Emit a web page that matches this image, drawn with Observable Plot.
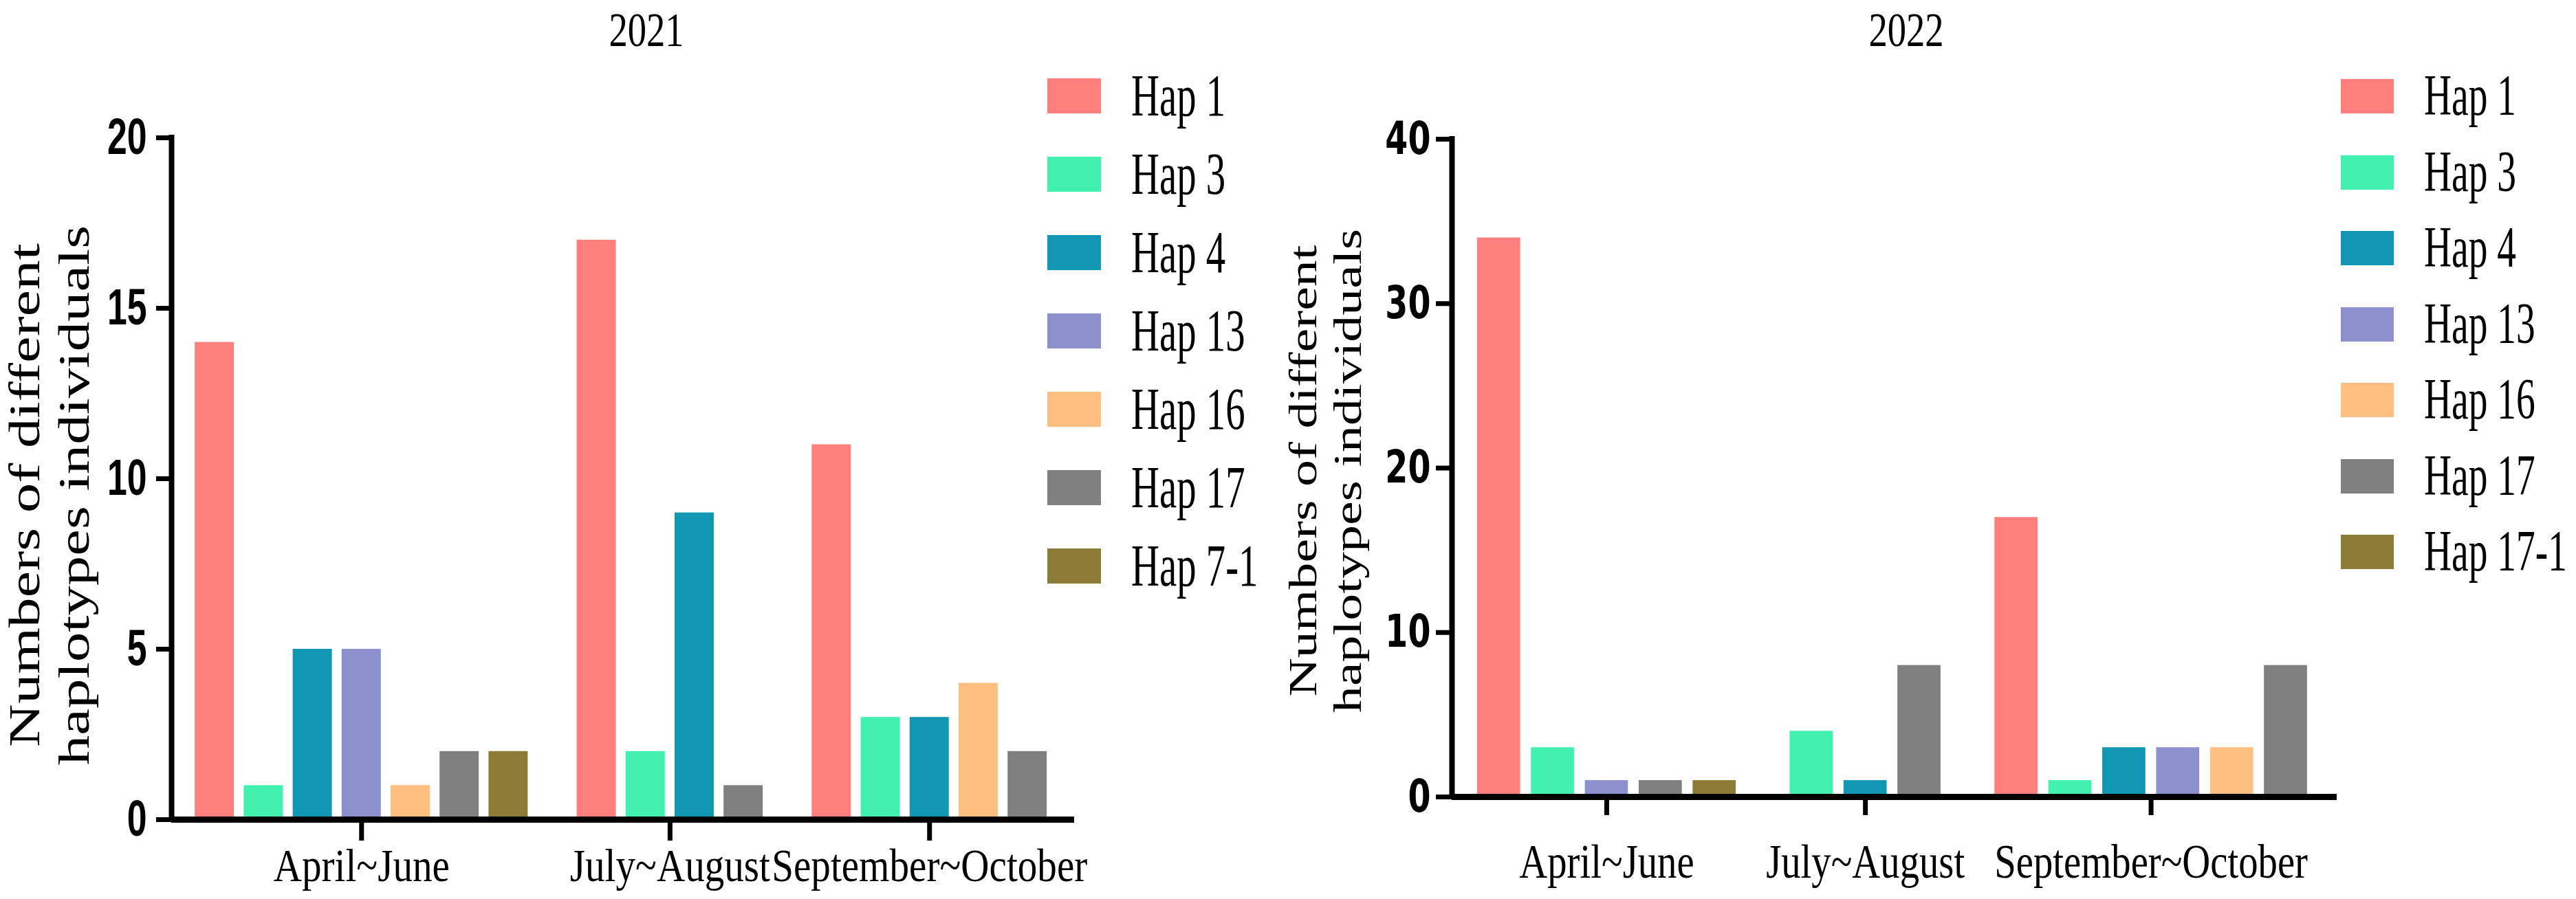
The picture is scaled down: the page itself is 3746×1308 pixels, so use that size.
<!DOCTYPE html>
<html>
<head>
<meta charset="utf-8">
<script src="https://cdn.jsdelivr.net/npm/d3@7"></script>
<script src="https://cdn.jsdelivr.net/npm/@observablehq/plot@0.6"></script>
<style>
  html, body { margin: 0; padding: 0; background: #fff; }
  #root { position: relative; width: 3746px; height: 1308px; overflow: hidden; background: #fff; }
  .abs { position: absolute; }
  .serif { font-family: "Liberation Serif", "Times New Roman", serif; color: #000; line-height: 1; white-space: nowrap; }
  .ttl { line-height: 1.2; }
</style>
</head>
<body>
<div id="root"></div>
<script>
// ---------------- data ----------------
const periods = ["April~June", "July~August", "September~October"];

const haps2021 = ["Hap 1", "Hap 3", "Hap 4", "Hap 13", "Hap 16", "Hap 17", "Hap 7-1"];
// rows = periods, columns = haps2021 ; null = haplotype not found in that period
const counts2021 = [
  [14, 1, 5, 5, 1, 2, 2],
  [17, 2, 9, null, null, 1, null],
  [11, 3, 3, null, 4, 2, null]
];

const haps2022 = ["Hap 1", "Hap 3", "Hap 4", "Hap 13", "Hap 16", "Hap 17", "Hap 17-1"];
const counts2022 = [
  [34, 3, null, 1, null, 1, 1],
  [null, 4, 1, null, null, 8, null],
  [17, 1, 3, 3, 3, 8, null]
];

const yTicks2021 = [0, 5, 10, 15, 20];
const yTicks2022 = [0, 10, 20, 30, 40];
const yLabel = "Numbers of different\nhaplotypes individuals";

// ---------------- styles ----------------
const hapColors = ["#FF7F7F", "#42F0AF", "#1197B4", "#8C90CC", "#FFBF80", "#808080", "#8C7B36"];
const BAR = 0.8;        // bar width in slot units
const GROUP_GAP = 1.0;  // empty space between groups in slot units

function layout(haps, counts) {
  const bars = [], centers = [];
  let pos = 0, last = 0;
  counts.forEach((row, p) => {
    const start = pos;
    row.forEach((v, h) => {
      if (v == null) return;
      bars.push({period: periods[p], hap: haps[h], value: v, x1: pos, x2: pos + BAR});
      last = pos;
      pos += 1;
    });
    centers.push((start + last + BAR) / 2);
    pos = last + BAR + GROUP_GAP;
  });
  return {bars, centers, end: last + BAR};
}

function squish(nodes, sx) {
  nodes.forEach(el => {
    let t = el.getAttribute("transform") || "";
    if (!t && (el.hasAttribute("x") || el.hasAttribute("y"))) {
      t = `translate(${el.getAttribute("x") || 0},${el.getAttribute("y") || 0})`;
      el.removeAttribute("x"); el.removeAttribute("y");
    }
    if (t.includes("rotate(")) t = t.replace("rotate(", `scale(${sx},1) rotate(`);
    else t = t + ` scale(${sx},1)`;
    el.setAttribute("transform", t);
  });
}

const root = document.getElementById("root");

const panels = [
  {
    title: "2021", titleX: 940, haps: haps2021, counts: counts2021, yTicks: yTicks2021,
    left: 0, width: 1600, height: 1308, mL: 249, mR: 38, mT: 200, mB: 116, padL: 0.48, padR: 0.56,
    yFont: "Liberation Sans, Arial, sans-serif", yFontSize: 74, yTickSize: 22, yTickPad: 14, ySquish: 0.7,
    xFontSize: 68, xTickSize: 31, xTickPad: 10, xSquish: 0.84,
    titleFontSize: 87, titleLH: 1.15, titleDx: -180, titleDy: 24,
    legendLeft: 1523, legendTextLeft: 1645, legendTop: 114, legendStep: 114, swW: 78, swH: 51, legFont: 86
  },
  {
    title: "2022", titleX: 2772, haps: haps2022, counts: counts2022, yTicks: yTicks2022,
    left: 1873, width: 1565, height: 1308, mL: 238, mR: 40, mT: 202, mB: 149, padL: 0.47, padR: 0.55,
    yFont: "DejaVu Sans, sans-serif", yFontSize: 66, yTickSize: 23, yTickPad: 8, ySquish: 0.72,
    xFontSize: 70, xTickSize: 27, xTickPad: 41, xSquish: 0.81,
    titleFontSize: 78, titleLH: 1.17, titleDx: -186, titleDy: 4,
    legendLeft: 3404, legendTextLeft: 3525, legendTop: 115, legendStep: 110.5, swW: 77, swH: 50, legFont: 84
  }
];

panels.forEach(cfg => {
  const {bars, centers, end} = layout(cfg.haps, cfg.counts);
  const labelOf = new Map(centers.map((c, i) => [c, periods[i]]));
  const yMax = cfg.yTicks[cfg.yTicks.length - 1];

  const plot = Plot.plot({
    width: cfg.width,
    height: cfg.height,
    marginLeft: cfg.mL, marginRight: cfg.mR, marginTop: cfg.mT, marginBottom: cfg.mB,
    style: {background: "transparent", color: "black", overflow: "visible"},
    x: {domain: [-cfg.padL, end + cfg.padR]},
    y: {domain: [0, yMax]},
    color: {domain: cfg.haps, range: hapColors},
    marks: [
      Plot.rect(bars, {x1: "x1", x2: "x2", y1: 0, y2: "value", fill: "hap"}),
      Plot.ruleY([0], {stroke: "black", strokeWidth: 9}),
      Plot.ruleX([-cfg.padL], {y1: 0, y2: yMax, stroke: "black", strokeWidth: 8, strokeLinecap: "square"}),
      Plot.axisY({
        ticks: cfg.yTicks, tickSize: cfg.yTickSize, tickPadding: cfg.yTickPad, strokeWidth: 7,
        fontSize: cfg.yFontSize, fontWeight: "bold", fontFamily: cfg.yFont, label: null, tickFormat: d => String(d)
      }),
      Plot.axisX({
        ticks: centers, tickSize: cfg.xTickSize, tickPadding: cfg.xTickPad, strokeWidth: 7,
        fontSize: cfg.xFontSize, fontFamily: "Liberation Serif, Times New Roman, serif", label: null,
        tickFormat: d => labelOf.get(d)
      }),
      Plot.text([yLabel], {
        frameAnchor: "left", text: d => d, rotate: -90, dx: cfg.titleDx, dy: cfg.titleDy,
        fontSize: cfg.titleFontSize, fontFamily: "Liberation Serif, Times New Roman, serif",
        lineHeight: cfg.titleLH, lineAnchor: "middle", textAnchor: "middle", fill: "black"
      })
    ]
  });

  squish(plot.querySelectorAll('g[aria-label="y-axis tick label"] text'), cfg.ySquish);
  squish(plot.querySelectorAll('g[aria-label="x-axis tick label"] text'), cfg.xSquish);
  squish(plot.querySelectorAll('g[aria-label="text"] text'), 0.72);

  plot.classList.add("abs");
  plot.style.left = cfg.left + "px";
  plot.style.top = "0px";
  root.appendChild(plot);

  // panel title
  const t = document.createElement("div");
  t.className = "abs serif ttl";
  t.textContent = cfg.title;
  t.style.fontSize = "70px";
  t.style.left = cfg.titleX + "px";
  t.style.top = "2px";
  t.style.transform = "translate(-50%,0) scaleX(0.78)";
  root.appendChild(t);

  // legend from the plot's colour scale
  const color = plot.scale("color");
  color.domain.forEach((name, i) => {
    const top = cfg.legendTop + i * cfg.legendStep;
    const sw = document.createElement("div");
    sw.className = "abs";
    Object.assign(sw.style, {
      left: cfg.legendLeft + "px", top: top + "px", width: cfg.swW + "px", height: cfg.swH + "px",
      background: color.range[i]
    });
    root.appendChild(sw);
    const lb = document.createElement("div");
    lb.className = "abs serif";
    lb.textContent = name;
    Object.assign(lb.style, {
      left: cfg.legendTextLeft + "px",
      top: (top + cfg.swH / 2 + 0.331 * cfg.legFont - 0.8375 * cfg.legFont) + "px",
      fontSize: cfg.legFont + "px",
      transform: "scaleX(0.66)", transformOrigin: "0 0"
    });
    root.appendChild(lb);
  });
});
</script>
</body>
</html>
